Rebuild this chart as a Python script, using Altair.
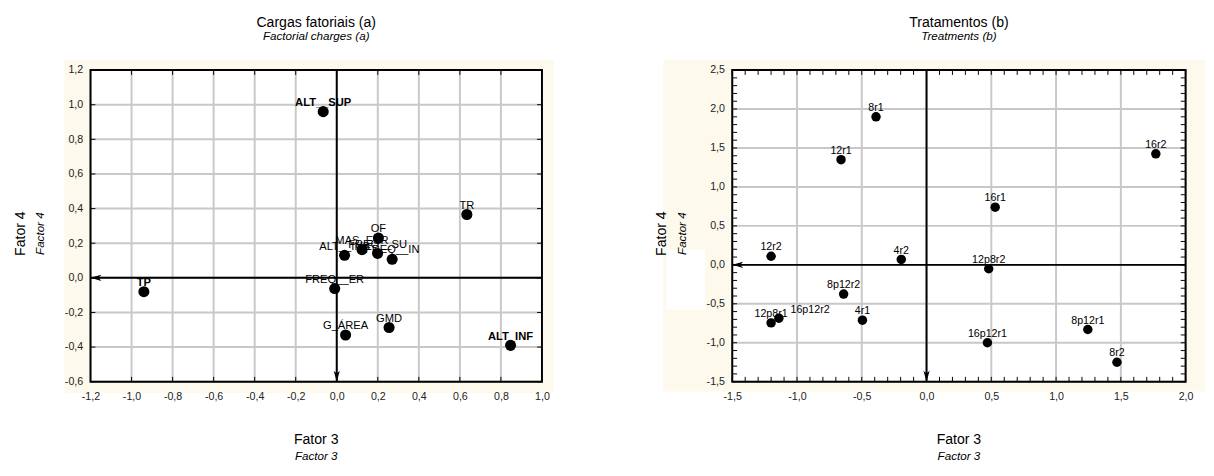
import altair as alt

FONT = "Liberation Sans"
CREAM = "#FDF9EC"
GRID = "#C8C8C8"

# ---------------- data ----------------
left_labels = ["ALT__SUP", "TR", "OF", "MAS_ESR", "FREQ__SU", "FREQ__IN", "ALT__INS",
               "FREQ__ER", "TP", "GMD", "G_ÁREA", "ALT_INF"]
left_f3 = [-0.066, 0.634, 0.203, 0.123, 0.199, 0.27, 0.038, -0.01, -0.94, 0.255, 0.043, 0.847]
left_f4 = [0.96, 0.366, 0.23, 0.163, 0.141, 0.107, 0.13, -0.062, -0.08, -0.287, -0.33, -0.39]
left_bold = ["ALT__SUP", "TP", "ALT_INF"]

right_labels = ["8r1", "12r1", "16r2", "16r1", "12r2", "4r2", "12p8r2", "8p12r2",
                "12p8r1", "16p12r2", "4r1", "16p12r1", "8p12r1", "8r2"]
right_f3 = [-0.39, -0.66, 1.77, 0.53, -1.20, -0.195, 0.48, -0.64, -1.20, -1.14, -0.495, 0.47, 1.245, 1.47]
right_f4 = [1.90, 1.35, 1.425, 0.74, 0.11, 0.07, -0.05, -0.375, -0.745, -0.685, -0.71, -1.0, -0.83, -1.25]
right_side_label = ["16p12r2"]

left_ticks_x = [-1.2, -1.0, -0.8, -0.6, -0.4, -0.2, 0.0, 0.2, 0.4, 0.6, 0.8, 1.0]
left_ticks_y = [-0.6, -0.4, -0.2, 0.0, 0.2, 0.4, 0.6, 0.8, 1.0, 1.2]
right_ticks_x = [-1.5, -1.0, -0.5, 0.0, 0.5, 1.0, 1.5, 2.0]
right_ticks_y = [-1.5, -1.0, -0.5, 0.0, 0.5, 1.0, 1.5, 2.0, 2.5]
right_minor_x = [round(-1.5 + 0.1 * i, 1) for i in range(36)]
right_minor_y = [round(-1.5 + 0.1 * i, 1) for i in range(41)]

LABEL_EXPR = "replace(replace(format(datum.value, '.1f'), '.', ','), '\u2212', '-')"

W1, W2, H = 465, 467, 321
LEFT_ARROW = "M-1,0L0.6,-0.45L0.2,0L0.6,0.45Z"
DOWN_ARROW = "M0,1L-0.45,-0.6L0,-0.2L0.45,-0.6Z"


def one():
    return alt.Data(values=[{"k": 1}])


def vals(lst):
    return alt.Data(values=[{"v": v} for v in lst])


def panel(labels, f3, f4, bold, side, xdom, ydom, xt, yt, xminor, yminor, w, h,
          title, subtitle, psize, lsize, cream, white_box=None):
    xs = alt.Scale(domain=xdom, nice=False, zero=False)
    ys = alt.Scale(domain=ydom, nice=False, zero=False)
    ax = dict(grid=False, ticks=False, domain=False, labelExpr=LABEL_EXPR, labelFont=FONT,
              labelFontSize=11, labelColor="#222222", title=None, zindex=1,
              labelOverlap=False, labelFlush=False)
    xax = alt.Axis(values=xt, labelPadding=9, **ax)
    yax = alt.Axis(values=yt, labelPadding=8, **ax)

    def X(f):
        return alt.X(f, type="quantitative", scale=xs, axis=xax)

    def Y(f):
        return alt.Y(f, type="quantitative", scale=ys, axis=yax)

    pdata = alt.Data(values=[{"label": l, "f3": a, "f4": b} for l, a, b in zip(labels, f3, f4)])
    L = []
    c0, c1, c2, c3 = cream
    L.append(alt.Chart(one()).mark_rect(color=CREAM).encode(
        x=alt.value(c0), x2=alt.value(c1), y=alt.value(c2), y2=alt.value(c3)))
    if white_box:
        b0, b1, b2, b3 = white_box
        L.append(alt.Chart(one()).mark_rect(color="white").encode(
            x=alt.value(b0), x2=alt.value(b1), y=alt.value(b2), y2=alt.value(b3)))
    L.append(alt.Chart(one()).mark_rect(color="white").encode(
        x=alt.value(0), x2=alt.value(w), y=alt.value(0), y2=alt.value(h)))
    # grid
    L.append(alt.Chart(vals(xt)).mark_rule(color=GRID, strokeWidth=2).encode(
        x=X("v"), y=alt.value(0), y2=alt.value(h)))
    L.append(alt.Chart(vals(yt)).mark_rule(color=GRID, strokeWidth=2).encode(
        y=Y("v"), x=alt.value(0), x2=alt.value(w)))
    # zero lines
    L.append(alt.Chart(vals([0])).mark_rule(color="black", strokeWidth=2).encode(
        y=Y("v"), x=alt.value(0), x2=alt.value(w)))
    L.append(alt.Chart(vals([0])).mark_rule(color="black", strokeWidth=2).encode(
        x=X("v"), y=alt.value(0), y2=alt.value(h)))
    # frame
    L.append(alt.Chart(one()).mark_rect(fillOpacity=0, stroke="black", strokeWidth=2).encode(
        x=alt.value(0), x2=alt.value(w), y=alt.value(0), y2=alt.value(h)))
    # inward ticks
    tl = 5
    L.append(alt.Chart(vals(xminor)).mark_rule(color="black", strokeWidth=1).encode(
        x=X("v"), y=alt.value(h), y2=alt.value(h - tl)))
    L.append(alt.Chart(vals(xminor)).mark_rule(color="black", strokeWidth=1).encode(
        x=X("v"), y=alt.value(0), y2=alt.value(tl)))
    L.append(alt.Chart(vals(yminor)).mark_rule(color="black", strokeWidth=1).encode(
        y=Y("v"), x=alt.value(0), x2=alt.value(tl)))
    L.append(alt.Chart(vals(yminor)).mark_rule(color="black", strokeWidth=1).encode(
        y=Y("v"), x=alt.value(w), x2=alt.value(w - tl)))
    # arrows
    L.append(alt.Chart(vals([0])).mark_point(shape=LEFT_ARROW, size=196, filled=True,
                                             color="black", opacity=1).encode(
        y=Y("v"), x=alt.value(7)))
    L.append(alt.Chart(vals([0])).mark_point(shape=DOWN_ARROW, size=196, filled=True,
                                             color="black", opacity=1).encode(
        x=X("v"), y=alt.value(h - 7)))
    # points
    L.append(alt.Chart(pdata).mark_circle(size=psize, color="black", opacity=1).encode(
        x=X("f3"), y=Y("f4")))
    # labels
    special = bold + side
    plain = alt.Chart(pdata).mark_text(font=FONT, fontSize=lsize, dy=-6, baseline="alphabetic",
                                       color="black").encode(x=X("f3"), y=Y("f4"), text="label:N")
    if special:
        plain = plain.transform_filter(~alt.FieldOneOfPredicate(field="label", oneOf=special))
    L.append(plain)
    if bold:
        L.append(alt.Chart(pdata).mark_text(font=FONT, fontSize=lsize, dy=-6, fontWeight="bold",
                                            baseline="alphabetic", color="black").encode(
            x=X("f3"), y=Y("f4"), text="label:N").transform_filter(
            alt.FieldOneOfPredicate(field="label", oneOf=bold)))
    if side:
        L.append(alt.Chart(pdata).mark_text(font=FONT, fontSize=lsize, dy=-5, dx=12, align="left",
                                            baseline="alphabetic", color="black").encode(
            x=X("f3"), y=Y("f4"), text="label:N").transform_filter(
            alt.FieldOneOfPredicate(field="label", oneOf=side)))
    # axis titles
    L.append(alt.Chart(one()).mark_text(font=FONT, fontSize=14.5, baseline="middle", color="black").encode(
        text=alt.value("Fator 3"), x=alt.value(w / 2), y=alt.value(h + 60)))
    L.append(alt.Chart(one()).mark_text(font=FONT, fontSize=12, fontStyle="italic", baseline="middle",
                                        color="black").encode(
        text=alt.value("Factor 3"), x=alt.value(w / 2), y=alt.value(h + 77)))
    L.append(alt.Chart(one()).mark_text(font=FONT, fontSize=14.5, baseline="middle", angle=270,
                                        color="black").encode(
        text=alt.value("Fator 4"), x=alt.value(-72), y=alt.value(h / 2 + 8)))
    L.append(alt.Chart(one()).mark_text(font=FONT, fontSize=12, fontStyle="italic", baseline="middle",
                                        angle=270, color="black").encode(
        text=alt.value("Factor 4"), x=alt.value(-52), y=alt.value(h / 2 + 8)))
    return alt.layer(*L).properties(
        width=w, height=h,
        title=alt.TitleParams(text=title, subtitle=subtitle, font=FONT, subtitleFont=FONT,
                              fontSize=14.5, subtitleFontSize=12, subtitleFontStyle="italic",
                              fontWeight="normal", color="black", subtitleColor="black",
                              anchor="middle", frame="group", offset=18, subtitlePadding=1))


left = panel(left_labels, left_f3, left_f4, left_bold, [], [-1.2, 1.0], [-0.6, 1.2],
             left_ticks_x, left_ticks_y, left_ticks_x, left_ticks_y, W1, H,
             "Cargas fatoriais (a)", "Factorial charges (a)", 130, 11.5,
             (-27, W1 + 12, -10, H + 12))
right = panel(right_labels, right_f3, right_f4, [], right_side_label, [-1.5, 2.0], [-1.5, 2.5],
              right_ticks_x, right_ticks_y, right_minor_x, right_minor_y, W2, H,
              "Tratamentos (b)", "Treatments (b)", 95, 11,
              (-71, W2 + 20, -10, H + 10), white_box=(-68, -28, 185, 247))

chart = alt.hconcat(left, right, spacing=102).properties(
    padding={"left": 4, "top": 0, "right": 0, "bottom": 0}
).configure_view(stroke=None).configure(font=FONT)

chart.save("out.html", embed_options={"renderer": "svg", "actions": False})
